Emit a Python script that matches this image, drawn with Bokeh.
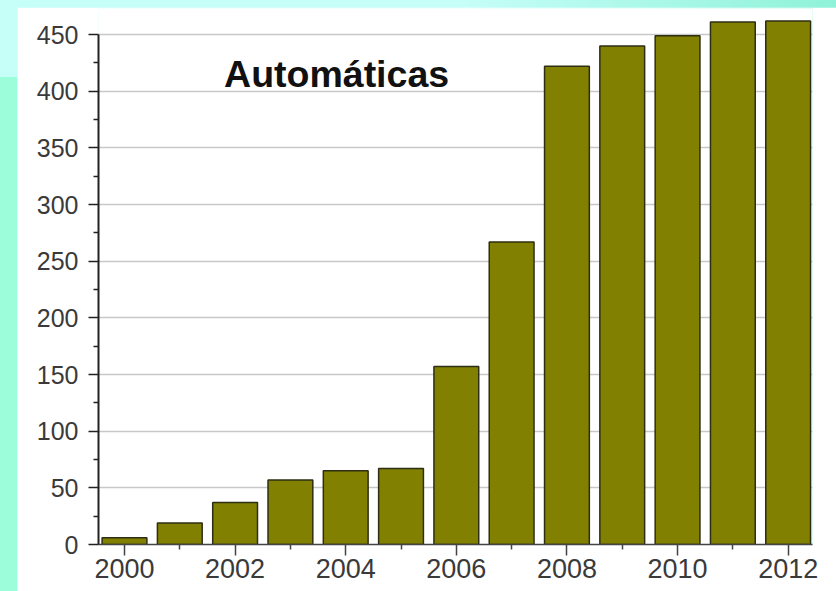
from bokeh.plotting import figure
from bokeh.layouts import column
from bokeh.models import ColumnDataSource, FixedTicker, Label, Range1d
from bokeh.embed import file_html
from bokeh.resources import INLINE

# Yearly counts of automatic stations
years = list(range(2000, 2013))
counts = [6, 19, 37, 57, 65, 67, 157, 267, 422, 440, 449, 461, 462]

x_major = [2000, 2002, 2004, 2006, 2008, 2010, 2012]
x_minor = [2001, 2003, 2005, 2007, 2009, 2011]
y_major = [0, 50, 100, 150, 200, 250, 300, 350, 400, 450]
y_minor = [25, 75, 125, 175, 225, 275, 325, 375, 425]

title_text = "Automáticas"

source = ColumnDataSource(data=dict(year=years, count=counts))

p = figure(
    width=819, height=584,
    x_range=Range1d(1999.53, 2012.44),
    y_range=Range1d(0, 473),
    output_backend="svg", toolbar_location=None,
    min_border_left=81, min_border_right=24,
    min_border_top=1, min_border_bottom=47,
)
p.margin = (7, 0, 0, 17)
p.background_fill_color = "white"
p.border_fill_color = "white"
p.outline_line_color = None

p.vbar(x="year", top="count", bottom=0, width=0.81, source=source,
       fill_color="#818000", line_color="#2e2e14", line_width=1.5)

# x axis
p.xaxis.ticker = FixedTicker(ticks=x_major, minor_ticks=x_minor)
p.xaxis.axis_line_color = "#444444"
p.xaxis.axis_line_width = 1.5
p.xaxis.major_tick_line_color = "#444444"
p.xaxis.minor_tick_line_color = "#444444"
p.xaxis.major_tick_line_width = 1.5
p.xaxis.minor_tick_line_width = 1.5
p.xaxis.major_tick_in = 0
p.xaxis.major_tick_out = 11
p.xaxis.minor_tick_in = 0
p.xaxis.minor_tick_out = 5
p.xaxis.major_label_text_font = "Liberation Sans"
p.xaxis.major_label_text_font_size = "27px"
p.xaxis.major_label_text_color = "#3a3a3a"
p.xaxis.major_label_standoff = 3

# y axis
p.yaxis.ticker = FixedTicker(ticks=y_major, minor_ticks=y_minor)
p.yaxis.bounds = (0, 450)
p.yaxis.axis_line_color = "#222222"
p.yaxis.axis_line_width = 2
p.yaxis.major_tick_line_color = "#222222"
p.yaxis.minor_tick_line_color = "#222222"
p.yaxis.major_tick_line_width = 1.5
p.yaxis.minor_tick_line_width = 1.5
p.yaxis.major_tick_in = 0
p.yaxis.major_tick_out = 10
p.yaxis.minor_tick_in = 0
p.yaxis.minor_tick_out = 5
p.yaxis.major_label_text_font = "Liberation Sans"
p.yaxis.major_label_text_font_size = "25px"
p.yaxis.major_label_text_color = "#3a3a3a"
p.yaxis.major_label_standoff = 10

# grid
p.xgrid.grid_line_color = None
p.ygrid.ticker = FixedTicker(ticks=y_major[1:])
p.ygrid.grid_line_color = "#c8c8c8"
p.ygrid.grid_line_width = 1.5

p.add_layout(Label(x=2001.8, y=415.6, text=title_text,
                   text_font="Liberation Sans", text_font_style="bold",
                   text_font_size="37.5px", text_color="#111111",
                   text_baseline="alphabetic", text_align="left"))

page = column(p, styles={
    "background": "linear-gradient(#9cfddb, #9cfddb) 0 77px / 17px 100% no-repeat, "
                  "linear-gradient(to right, #c6fef8 0%, #c6fef8 55%, #8ff2d9 100%)",
})

open("out.html", "w").write(file_html(page, INLINE))
